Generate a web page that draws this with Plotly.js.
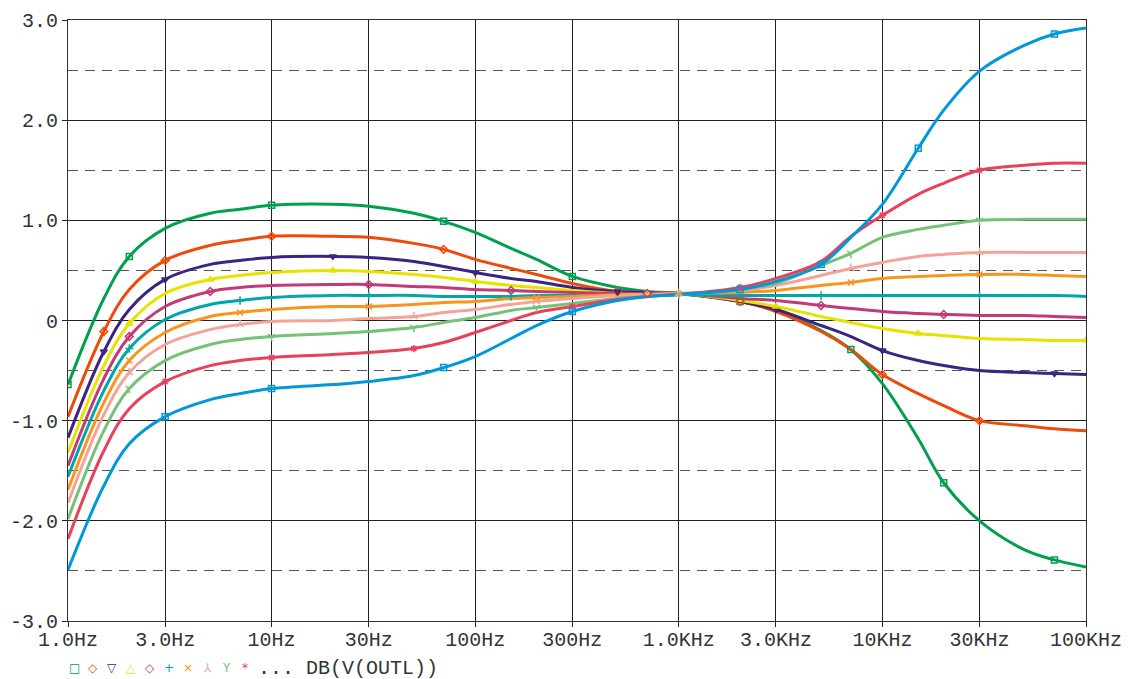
<!DOCTYPE html>
<html>
<head>
<meta charset="utf-8">
<script src="https://cdn.plot.ly/plotly-3.0.1.min.js"></script>
<style>html,body{margin:0;padding:0;background:#fff;}#chart{width:1133px;height:679px;}</style>
</head>
<body>
<div id="chart"></div>
<script>
// Frequencies (Hz)
const freq = [1, 1.5, 2, 3, 5, 7, 10, 20, 30, 50, 70, 100, 150, 200, 300, 500, 700, 1000, 2000, 3000, 5000, 7000, 10000, 15000, 20000, 30000, 50000, 70000, 100000];

// DB(V(OUTL)) for each sweep step
const s1  = [-0.64, 0.22, 0.64, 0.92, 1.07, 1.11, 1.15, 1.16, 1.14, 1.07, 0.99, 0.88, 0.72, 0.61, 0.44, 0.33, 0.29, 0.27, 0.19, 0.10, -0.10, -0.29, -0.63, -1.18, -1.62, -2.00, -2.29, -2.39, -2.46];
const s2  = [-0.96, -0.11, 0.31, 0.60, 0.75, 0.80, 0.84, 0.84, 0.83, 0.77, 0.71, 0.61, 0.52, 0.46, 0.37, 0.29, 0.28, 0.27, 0.19, 0.09, -0.11, -0.29, -0.54, -0.73, -0.85, -1.00, -1.05, -1.08, -1.10];
const s3  = [-1.17, -0.31, 0.11, 0.41, 0.56, 0.60, 0.63, 0.64, 0.63, 0.59, 0.54, 0.48, 0.42, 0.39, 0.33, 0.29, 0.28, 0.27, 0.19, 0.11, -0.05, -0.16, -0.30, -0.40, -0.45, -0.50, -0.52, -0.53, -0.54];
const s4  = [-1.32, -0.45, -0.03, 0.27, 0.41, 0.45, 0.48, 0.50, 0.49, 0.46, 0.43, 0.39, 0.35, 0.33, 0.30, 0.27, 0.27, 0.27, 0.20, 0.14, 0.04, -0.02, -0.08, -0.13, -0.15, -0.18, -0.19, -0.20, -0.20];
const s5  = [-1.45, -0.58, -0.16, 0.14, 0.29, 0.33, 0.35, 0.36, 0.36, 0.34, 0.33, 0.31, 0.30, 0.29, 0.28, 0.27, 0.27, 0.27, 0.22, 0.20, 0.15, 0.12, 0.09, 0.07, 0.06, 0.05, 0.05, 0.04, 0.03];
const s6  = [-1.56, -0.70, -0.28, 0.01, 0.16, 0.20, 0.23, 0.25, 0.25, 0.25, 0.24, 0.24, 0.24, 0.25, 0.25, 0.25, 0.25, 0.26, 0.25, 0.25, 0.25, 0.25, 0.25, 0.25, 0.25, 0.25, 0.25, 0.25, 0.24];
const s7  = [-1.69, -0.82, -0.40, -0.12, 0.04, 0.08, 0.11, 0.14, 0.14, 0.16, 0.18, 0.19, 0.22, 0.23, 0.24, 0.26, 0.26, 0.27, 0.28, 0.30, 0.35, 0.38, 0.42, 0.44, 0.45, 0.46, 0.46, 0.45, 0.44];
const s8  = [-1.82, -0.94, -0.52, -0.24, -0.09, -0.04, -0.01, 0.00, 0.02, 0.04, 0.08, 0.11, 0.16, 0.19, 0.22, 0.25, 0.26, 0.27, 0.30, 0.35, 0.45, 0.52, 0.58, 0.64, 0.66, 0.68, 0.68, 0.68, 0.68];
const s9  = [-1.98, -1.10, -0.68, -0.40, -0.24, -0.19, -0.16, -0.13, -0.11, -0.07, -0.02, 0.03, 0.10, 0.13, 0.17, 0.22, 0.24, 0.26, 0.31, 0.37, 0.55, 0.67, 0.83, 0.91, 0.95, 1.00, 1.01, 1.01, 1.01];
const s10 = [-2.18, -1.30, -0.88, -0.61, -0.45, -0.40, -0.37, -0.34, -0.32, -0.28, -0.22, -0.12, 0.00, 0.08, 0.14, 0.21, 0.24, 0.26, 0.33, 0.42, 0.59, 0.84, 1.05, 1.26, 1.37, 1.50, 1.55, 1.57, 1.57];
const s11 = [-2.49, -1.65, -1.23, -0.96, -0.79, -0.73, -0.68, -0.64, -0.61, -0.55, -0.47, -0.36, -0.18, -0.05, 0.09, 0.20, 0.24, 0.26, 0.31, 0.39, 0.56, 0.83, 1.16, 1.72, 2.10, 2.49, 2.75, 2.86, 2.92];

// indices of points carrying a marker
const m1  = [0, 2, 6, 10, 14, 18, 21, 24, 27];
const m2  = [1, 3, 6, 10, 15, 18, 22, 25];
const m3  = [1, 3, 7, 11, 15, 19, 22, 27];
const m4  = [2, 4, 7, 11, 16, 19, 23, 28];
const m5  = [2, 4, 8, 12, 16, 20, 24];
const m6  = [2, 5, 8, 12, 17, 20, 25];
const m7  = [2, 5, 8, 13, 17, 21, 25];
const m8  = [2, 5, 9, 13, 17, 21, 25];
const m9  = [2, 6, 9, 13, 17, 21, 25];
const m10 = [3, 6, 9, 14, 18, 22, 25];
const m11 = [3, 6, 10, 14, 18, 20, 23, 27];

const xTickVals = [1, 3, 10, 30, 100, 300, 1000, 3000, 10000, 30000, 100000];
const xTickText = ["1.0Hz", "3.0Hz", "10Hz", "30Hz", "100Hz", "300Hz", "1.0KHz", "3.0KHz", "10KHz", "30KHz", "100KHz"];
const yTickVals = [-3, -2, -1, 0, 1, 2, 3];
const yTickText = ["-3.0", "-2.0", "-1.0", "0", "1.0", "2.0", "3.0"];
const yHalfVals = [-2.5, -1.5, -0.5, 0.5, 1.5, 2.5];

const legendSymbols = ["\u25A1", "\u25C7", "\u25BD", "\u25B3", "\u25C7", "+", "\u00D7", "\u2144", "Y", "*"];
const legendLabel = "DB(V(OUTL))";

const series = [s1, s2, s3, s4, s5, s6, s7, s8, s9, s10, s11];
const marks = [m1, m2, m3, m4, m5, m6, m7, m8, m9, m10, m11];
const colors = ["#00a04e", "#ee4a0a", "#3c2580", "#e8e200", "#c23a78", "#00a6a8", "#f7951f", "#f5a399", "#74c277", "#e8425a", "#0097db"];
const symbols = ["square-open", "diamond-open", "triangle-down-open", "triangle-up-open", "diamond-open", "cross-thin-open", "x-thin-open", "y-up-open", "y-down-open", "asterisk-open", "square-open"];

const traces = [];
series.forEach((s, i) => {
  traces.push({
    x: freq, y: s, type: "scatter", mode: "lines",
    line: {color: colors[i], width: 3, shape: "spline", smoothing: 1},
    hoverinfo: "skip", showlegend: false
  });
});
series.forEach((s, i) => {
  traces.push({
    x: marks[i].map(k => freq[k]), y: marks[i].map(k => s[k]),
    type: "scatter", mode: "markers",
    marker: {symbol: symbols[i], size: 6, color: colors[i], line: {color: colors[i], width: 1.5}},
    hoverinfo: "skip", showlegend: false
  });
});

const mono = "Liberation Mono, Courier New, monospace";
const annotations = [];
legendSymbols.forEach((t, i) => {
  annotations.push({
    text: t, xref: "paper", yref: "paper",
    x: (74 + 19 * i - 68) / 1018, y: -(668 - 621) / 601,
    xanchor: "center", yanchor: "middle", showarrow: false,
    font: {family: "DejaVu Sans", size: 12, color: colors[i]}
  });
});
annotations.push({
  text: "... " + legendLabel, xref: "paper", yref: "paper",
  x: (256 - 68) / 1018, y: -(668 - 621) / 601,
  xanchor: "left", yanchor: "middle", showarrow: false,
  font: {family: mono, size: 20, color: "#333"}
});

const layout = {
  width: 1133, height: 679,
  margin: {l: 68, r: 47, t: 20, b: 58},
  paper_bgcolor: "#fff", plot_bgcolor: "#fff",
  showlegend: false,
  font: {family: mono, size: 20, color: "#333"},
  xaxis: {
    type: "log", range: [0, 5],
    tickmode: "array", tickvals: xTickVals, ticktext: xTickText,
    ticks: "outside", ticklen: 5, tickcolor: "#222", tickwidth: 1,
    ticklabelstandoff: -5,
    showgrid: true, gridcolor: "#222", gridwidth: 1,
    showline: true, mirror: true, linecolor: "#333", linewidth: 1,
    zeroline: false, tickfont: {family: mono, size: 20, color: "#333"}
  },
  yaxis: {
    range: [-3, 3],
    tickmode: "array", tickvals: yTickVals, ticktext: yTickText,
    ticks: "outside", ticklen: 5, tickcolor: "#222", tickwidth: 1,
    showgrid: true, gridcolor: "#222", gridwidth: 1,
    minor: {tickmode: "array", tickvals: yHalfVals, showgrid: true, gridcolor: "#555", gridwidth: 1, griddash: "10px,7px", ticks: ""},
    showline: true, mirror: true, linecolor: "#333", linewidth: 1,
    zeroline: false, tickfont: {family: mono, size: 20, color: "#333"}
  },
  annotations: annotations
};

Plotly.newPlot("chart", traces, layout, {staticPlot: true, displayModeBar: false});
</script>
</body>
</html>
